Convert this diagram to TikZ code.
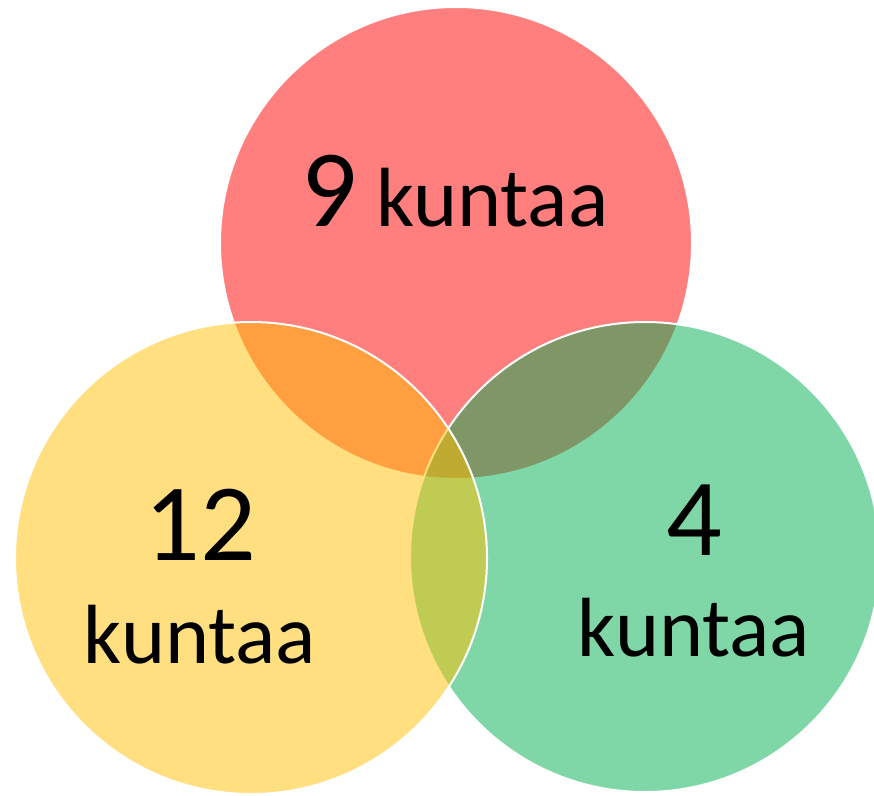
\documentclass[tikz,border=0pt]{standalone}
\usepackage{fontspec}
\setmainfont{Carlito}
\definecolor{cred}{HTML}{FF0000}
\definecolor{cgreen}{HTML}{00B050}
\definecolor{cyellow}{HTML}{FFC000}
\tikzset{
  venn/.style={circle, inner sep=0pt, draw=white, line width=2pt, fill opacity=0.5, draw opacity=1},
  big/.style={anchor=base, inner sep=0pt, font=\fontsize{110}{110}\selectfont},
  small/.style={anchor=base, inner sep=0pt, font=\fontsize{84}{84}\selectfont},
}
\begin{document}
\begin{tikzpicture}[x=1pt,y=-1pt]
\useasboundingbox (0,0) rectangle (874,795);
\node[venn, fill=cred, minimum size=472pt] (red) at (456,243) {};
\node[venn, fill=cgreen, minimum size=470pt] (green) at (645,557) {};
\node[venn, fill=cyellow, minimum size=472pt] (yellow) at (251,558) {};
\node[anchor=base, inner sep=0pt] (t9) at (455,226) {\fontsize{110}{110}\selectfont 9\fontsize{84}{84}\selectfont{} kuntaa};
\node[big] (t12) at (200,560) {12};
\node[small] (k12) at (200,663) {kuntaa};
\node[big] (t4) at (694,555) {4};
\node[small] (k4) at (694,656) {kuntaa};
\end{tikzpicture}
\end{document}
